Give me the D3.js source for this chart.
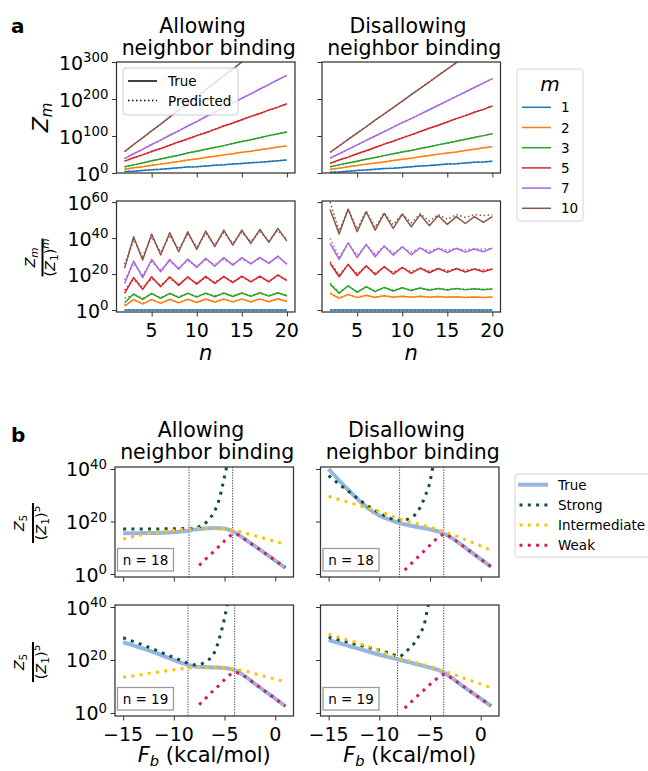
<!DOCTYPE html>
<html><head><meta charset="utf-8">
<script src="https://cdn.jsdelivr.net/npm/d3@7"></script>
<style>
body{margin:0;background:#fff;}
svg{font-family:"DejaVu Sans",sans-serif;}
</style></head><body>
<svg id="fig" width="648" height="771"></svg>
<script>
// ---------- panel a : partition functions vs chain length ----------
const nValues = [2,3,4,5,6,7,8,9,10,11,12,13,14,15,16,17,18,19,20];
const mValues = [1,2,3,5,7,10];
const mColors = ['#1f77b4','#ff7f0e','#2ca02c','#d62728','#ab68d6','#8c564b'];

// log10 Z_m, one row per m
const logZmAllow = [
  [4,5,7,9,10,12,14,16,17,19,21,22,24,26,28,29,31,33,35],
  [10,14,17,21,24,28,31,35,38,42,45,49,52,56,59,63,66,70,73],
  [17,22,27,33,38,43,48,54,59,64,69,74,80,85,90,95,101,106,111],
  [32,41,49,58,66,75,84,92,101,109,118,127,135,144,153,161,170,178,187],
  [39,52,64,77,89,102,114,127,139,152,164,177,189,202,214,227,239,252,264],
  [58,77,95,114,132,151,170,188,207,225,244,263,281,300,318,337,356,374,393]
];
const logZmDisallow = [
  [2,3,5,7,8,10,12,13,15,17,19,20,22,24,25,27,29,30,32],
  [10,13,17,20,24,27,30,34,37,40,44,47,51,54,57,61,64,68,71],
  [17,22,27,32,37,42,47,52,57,61,66,71,76,81,86,91,96,101,106],
  [26,35,43,52,60,69,78,86,95,103,112,121,129,138,147,155,164,172,181],
  [40,52,64,76,88,100,112,124,136,147,159,171,183,195,207,219,231,243,255],
  [56,73,91,108,125,143,160,177,194,212,229,246,264,281,298,316,333,350,367]
];

// log10 of Z_m / (Z_1)^m
const ratioAllowTrue = [
  [0,0,0,0,0,0,0,0,0,0,0,0,0,0,0,0,0,0,0],
  [2.2,5.9,3.3,5.9,3.7,6.0,4.0,6.0,4.2,6.1,4.3,6.1,4.4,6.2,4.5,6.2,4.6,6.3,4.6],
  [4.0,8.9,5.9,9.3,6.5,9.3,6.9,9.4,7.2,9.4,7.4,9.5,7.5,9.5,7.6,9.6,7.7,9.6,7.8],
  [9.3,18.1,11.5,18.5,13.0,18.5,13.7,18.5,14.4,18.7,14.8,18.7,15.2,18.8,15.6,18.9,15.6,19.6,16.3],
  [14.8,27.2,18.0,28.1,21.3,28.1,22.6,28.3,23.7,28.7,24.4,29.1,25.0,29.1,25.6,29.3,25.9,30.0,25.4],
  [23.2,40.7,27.8,42.2,30.6,43.0,32.4,43.5,33.7,43.9,35.2,44.4,36.1,44.4,37.0,44.8,37.6,45.4,38.3]
];
const ratioAllowPred = [
  [0,0,0,0,0,0,0,0,0,0,0,0,0,0,0,0,0,0,0],
  [2.8,5.5,3.7,5.6,4.0,5.7,4.3,5.8,4.5,5.9,4.6,5.9,4.7,6.0,4.8,6.0,4.9,6.1,4.9],
  [6.5,8.5,6.5,8.9,7.0,9.0,7.3,9.1,7.6,9.1,7.8,9.2,7.9,9.3,8.0,9.3,8.1,9.4,8.2],
  [11.0,17.0,12.5,17.5,13.8,17.7,14.4,17.8,15.0,18.0,15.4,18.1,15.7,18.2,16.0,18.3,16.1,18.9,16.7],
  [16.7,25.8,19.5,26.8,22.3,27.0,23.5,27.3,24.5,27.8,25.1,28.2,25.6,28.3,26.2,28.5,26.5,29.2,26.0],
  [25.5,39.0,29.8,40.5,32.2,41.5,33.8,42.0,35.0,42.5,36.3,43.0,37.1,43.2,38.0,43.6,38.6,44.2,39.2]
];
const ratioDisallowTrue = [
  [0,0,0,0,0,0,0,0,0,0,0,0,0,0,0,0,0,0,0],
  [9.3,6.5,8.7,6.9,8.2,7.0,7.9,7.1,7.7,7.1,7.6,7.1,7.5,7.1,7.4,7.0,7.3,7.0,7.2],
  [14.4,9.3,13.5,9.8,13.0,10.2,12.6,10.6,12.4,10.8,12.2,11.0,12.0,11.1,11.9,11.2,11.8,11.3,11.7],
  [25.9,18.5,25.4,19.1,24.6,19.6,24.1,20.0,23.7,20.4,23.3,20.7,23.1,20.9,23.1,21.1,22.8,21.3,22.8],
  [37.0,28.1,37.4,29.1,36.5,29.6,35.6,30.4,35.2,30.7,34.6,31.5,34.3,31.9,34.3,32.2,33.9,32.4,34.4],
  [55.9,42.2,56.1,43.5,54.6,44.4,53.7,45.4,53.3,46.3,53.0,46.9,52.4,47.6,51.9,48.1,51.9,48.7,51.9]
];
const ratioDisallowPred = [
  [0,0,0,0,0,0,0,0,0,0,0,0,0,0,0,0,0,0,0],
  [9.5,6.8,8.6,7.1,8.1,7.2,7.9,7.3,7.7,7.3,7.6,7.3,7.5,7.2,7.4,7.1,7.3,7.1,7.2],
  [14.8,9.8,13.3,10.2,12.8,10.6,12.5,10.9,12.3,11.1,12.1,11.3,12.0,11.4,11.9,11.5,11.8,11.5,11.7],
  [26.8,19.5,25.0,20.0,24.3,20.5,23.8,20.9,23.5,21.3,23.2,21.6,23.0,21.9,22.9,22.1,22.8,22.3,22.8],
  [39.8,29.5,37.0,30.5,36.0,31.2,35.3,31.8,34.8,32.3,34.4,32.8,34.2,33.2,34.1,33.5,34.0,33.8,34.2],
  [60.0,44.0,56.0,45.0,55.0,46.0,54.0,47.5,53.5,48.5,53.5,49.5,53.0,50.5,53.0,51.5,53.0,52.5,53.0]
];

// ---------- panel b : Z_5/(Z_1)^5 vs binding free energy ----------
const fbGrid = [-15,-14,-13,-12,-11,-10,-9,-8,-7,-6,-5,-4,-3,-2,-1,0,1];
const trueAllow18 = [15.5,15.5,15.6,15.6,15.7,15.9,16.3,16.9,17.3,17.5,17.3,15.8,13.3,10.6,7.9,5.1,2.4];
const interAllow18 = [13.3,14.2,15.0,15.7,16.2,16.6,17.0,17.3,17.4,17.4,17.3,16.6,15.6,14.6,13.5,12.4,11.3];
const strongAllow18 = [[-15,17.1],[-14,17.1],[-13,17.1],[-12,17.1],[-11,17.2],[-10,17.2],[-9,17.3],[-8,17.5],[-7.5,18.0],[-7,19.0],[-6.5,21.0],[-6,23.8],[-5.5,28.8],[-5,37.2],[-4.75,41.5]];
const weakAllow18 = [[-7.5,3.3],[-7,5.2],[-6.5,7.0],[-6,8.8],[-5.5,10.7],[-5,12.6],[-4.5,14.4],[-4,15.3],[-3.5,14.6],[-3,13.2],[-2,10.6],[-1,7.9],[0,5.1],[1,2.4]];

const trueDisallow18 = [40.0,35.8,31.8,28.0,24.7,22.3,20.7,19.4,18.5,17.7,17.0,16.0,14.1,11.4,8.5,5.7,2.8];
const interDisallow18 = [29.6,28.4,27.3,26.1,25.0,23.8,22.4,20.9,19.8,18.9,17.8,16.5,15.3,13.8,12.3,10.7,9.0];
const strongDisallow18 = [[-15,37.5],[-14,34.3],[-13,31.4],[-12,28.4],[-11,25.6],[-10,23.3],[-9,21.3],[-8,20.5],[-7.5,20.6],[-7,21.2],[-6.5,22.5],[-6,25.2],[-5.5,29.5],[-5,35.2],[-4.7,41.5]];
const weakDisallow18 = [[-7.5,1.5],[-7,3.4],[-6.5,5.3],[-6,7.2],[-5.5,9.1],[-5,11.0],[-4.5,12.9],[-4,14.4],[-3.5,15.3],[-3,14.1],[-2,11.4],[-1,8.5],[0,5.7],[1,2.8]];

const trueAllow19 = [26.7,25.5,24.3,23.0,21.5,20.0,18.6,17.6,17.3,17.2,17.0,16.2,13.9,11.0,8.2,5.4,2.6];
const interAllow19 = [13.5,14.0,14.6,15.2,15.7,16.3,16.8,17.1,17.3,17.3,17.0,16.5,15.8,14.8,13.8,12.8,11.7];
const strongAllow19 = [[-15,28.4],[-14,27.0],[-13,25.6],[-12,24.1],[-11,22.5],[-10,20.9],[-9,19.4],[-8.5,18.6],[-8,18.2],[-7.5,18.3],[-7,19.0],[-6.5,20.3],[-6,22.8],[-5.5,28.3],[-5,35.8],[-4.7,41.5]];
const weakAllow19 = [[-7.5,3.1],[-7,5.0],[-6.5,7.0],[-6,8.8],[-5.5,10.6],[-5,12.6],[-4.5,14.3],[-4,15.3],[-3.5,14.9],[-3,13.8],[-2,11.0],[-1,8.2],[0,5.4],[1,2.6]];

const trueDisallow19 = [27.5,26.4,25.3,24.2,23.1,22.0,21.0,20.1,19.1,18.1,17.1,16.0,13.6,10.8,8.1,5.4,2.7];
const interDisallow19 = [29.7,28.6,27.5,26.3,25.0,23.6,22.0,20.6,19.6,18.6,17.5,16.2,15.0,13.6,12.3,11.0,9.6];
const strongDisallow19 = [[-15,28.6],[-14,27.6],[-13,26.6],[-12,25.6],[-11,24.6],[-10,23.7],[-9,22.6],[-8,21.3],[-7.5,22.8],[-7,24.5],[-6.5,26.6],[-6,29.8],[-5.5,34.5],[-5.25,39.5],[-5.1,42]];
const weakDisallow19 = [[-7.5,1.8],[-7,3.6],[-6.5,5.5],[-6,7.3],[-5.5,9.0],[-5,10.8],[-4.5,12.4],[-4,14.0],[-3.5,14.6],[-3,13.5],[-2,10.8],[-1,8.1],[0,5.4],[1,2.7]];

// regime boundaries (kcal/mol)
const cutAllow18 = [-8.5, -4.2];
const cutDisallow18 = [-8.0, -3.65];
const cutAllow19 = [-8.6, -4.0];
const cutDisallow19 = [-8.2, -3.65];

const regimeNames = ['True','Strong','Intermediate','Weak'];
const regimeColors = ['#96b6de','#11503f','#ffc107','#d81b60'];

const ticksA = [5,10,15,20];
const ticksZm = [0,100,200,300];
const ticksRatioA = [0,20,40,60];
const ticksFb = [-15,-10,-5,0];
const ticksRatioB = [0,20,40];

// ---------- drawing helpers ----------
const svg = d3.select('#fig');
const INK = '#333';
let clipCount = 0;

function makePanel(x0, x1, y0, y1, xDom, yDom) {
  const id = 'clip' + (clipCount++);
  svg.append('clipPath').attr('id', id).append('rect')
    .attr('x', x0).attr('y', y0).attr('width', x1 - x0).attr('height', y1 - y0);
  const g = svg.append('g');
  const plot = g.append('g').attr('clip-path', `url(#${id})`);
  return {
    x: d3.scaleLinear().domain(xDom).range([x0, x1]),
    y: d3.scaleLinear().domain(yDom).range([y1, y0]),
    g, plot, x0, x1, y0, y1
  };
}

function powLabel(sel, x, y, exp) {
  const t = sel.append('text').attr('x', x).attr('y', y).attr('text-anchor', 'end')
    .attr('font-size', 19).attr('fill', '#000');
  t.append('tspan').text('10');
  t.append('tspan').attr('font-size', 13.3).attr('dy', -7.5).text(exp);
}

function drawAxes(p, xTicks, yTicks, xLabels, yLabels) {
  const top = p.g.append('g');
  const ax = top.append('g').attr('transform', `translate(0,${p.y1})`)
    .call(d3.axisBottom(p.x).tickValues(xTicks).tickSize(4.5).tickSizeOuter(0).tickFormat(''));
  const ay = top.append('g').attr('transform', `translate(${p.x0},0)`)
    .call(d3.axisLeft(p.y).tickValues(yTicks).tickSize(4.5).tickSizeOuter(0).tickFormat(''));
  [ax, ay].forEach(a => {
    a.select('.domain').remove();
    a.selectAll('line').attr('stroke', INK).attr('stroke-width', 1);
  });
  top.append('rect').attr('x', p.x0).attr('y', p.y0)
    .attr('width', p.x1 - p.x0).attr('height', p.y1 - p.y0)
    .attr('fill', 'none').attr('stroke', INK).attr('stroke-width', 1.25);
  if (xLabels) {
    xTicks.forEach(v => {
      top.append('text').attr('x', p.x(v)).attr('y', p.y1 + 25)
        .attr('text-anchor', 'middle').attr('font-size', 19)
        .text(v < 0 ? '\u2212' + Math.abs(v) : String(v));
    });
  }
  if (yLabels) {
    yTicks.forEach(v => powLabel(top, p.x0 - 8, p.y(v) + 7.5, String(v)));
  }
}

function title(cx, yBase, l1, l2) {
  const t = svg.append('text').attr('font-size', 20.5).attr('text-anchor', 'middle');
  t.append('tspan').attr('x', cx - 3.3).attr('y', yBase).text(l1);
  t.append('tspan').attr('x', cx + 3).attr('y', yBase + 22).text(l2);
}

function fracLabel(cx, cy, numBase, denBase, barLen, numSub, denSup) {
  const g = svg.append('g').attr('transform', `translate(${cx},${cy}) rotate(-90)`);
  const num = g.append('text').attr('y', numBase).attr('text-anchor', 'middle').attr('font-size', 14.5);
  num.append('tspan').attr('font-style', 'italic').text('Z');
  num.append('tspan').attr('font-size', 10.5).attr('dy', 3).attr('font-style', /\d/.test(numSub) ? 'normal' : 'italic').text(numSub);
  g.append('line').attr('x1', -barLen / 2).attr('x2', barLen / 2)
    .attr('stroke', '#000').attr('stroke-width', 2);
  const den = g.append('text').attr('y', denBase).attr('text-anchor', 'middle').attr('font-size', 14.5);
  den.append('tspan').text('(');
  den.append('tspan').attr('font-style', 'italic').text('Z');
  den.append('tspan').attr('font-size', 10.5).attr('dy', 3).text('1');
  den.append('tspan').attr('dy', -3).text(')');
  den.append('tspan').attr('font-size', 10.5).attr('dy', -6)
    .attr('font-style', /\d/.test(denSup) ? 'normal' : 'italic').text(denSup);
}

// column geometry
const colL = [116.5, 295];
const colR = [322, 500.5];
const rowA1 = [62, 173], rowA2 = [201, 312];
const rowB1 = [467, 577], rowB2 = [605, 716];
const nDomain = [1.1, 20.9];
const fbDomain = [-15.8, 1.8];

// ---------- panel a ----------
function drawZm(p, rows) {
  const line = d3.line().x((d, i) => p.x(nValues[i])).y(d => p.y(d));
  rows.forEach((r, k) => {
    p.plot.append('path').attr('d', line(r)).attr('fill', 'none')
      .attr('stroke', mColors[k]).attr('stroke-width', 1.5);
  });
  rows.forEach((r, k) => {
    p.plot.append('path').attr('d', line(r)).attr('fill', 'none')
      .attr('stroke', mColors[k]).attr('stroke-width', 1.5).attr('stroke-dasharray', '1.5,2.5');
  });
}
function drawRatio(p, trueRows, predRows) {
  const line = d3.line().x((d, i) => p.x(nValues[i])).y(d => p.y(d));
  trueRows.forEach((r, k) => {
    p.plot.append('path').attr('d', line(r)).attr('fill', 'none')
      .attr('stroke', mColors[k]).attr('stroke-width', 1.5).attr('stroke-linejoin', 'round');
  });
  predRows.forEach((r, k) => {
    p.plot.append('path').attr('d', line(r)).attr('fill', 'none')
      .attr('stroke', mColors[k]).attr('stroke-width', 1.5).attr('stroke-dasharray', '1.5,2.5');
  });
}

const pA1 = makePanel(colL[0], colL[1], rowA1[0], rowA1[1], nDomain, [0, 300]);
drawZm(pA1, logZmAllow);
const pA2 = makePanel(colR[0], colR[1], rowA1[0], rowA1[1], nDomain, [0, 300]);
drawZm(pA2, logZmDisallow);
const pA3 = makePanel(colL[0], colL[1], rowA2[0], rowA2[1], nDomain, [-1.1, 60.6]);
drawRatio(pA3, ratioAllowTrue, ratioAllowPred);
const pA4 = makePanel(colR[0], colR[1], rowA2[0], rowA2[1], nDomain, [-1.1, 60.6]);
drawRatio(pA4, ratioDisallowTrue, ratioDisallowPred);

// True / Predicted key
(function () {
  const g = pA1.g.append('g');
  g.append('rect').attr('x', 123).attr('y', 68).attr('width', 115).attr('height', 47).attr('rx', 3)
    .attr('fill', '#fff').attr('fill-opacity', 0.8).attr('stroke', '#cccccc');
  [['True', null], ['Predicted', '1.5,2.5']].forEach((d, i) => {
    const yy = 81 + i * 19.5;
    const l = g.append('line').attr('x1', 128).attr('x2', 157).attr('y1', yy).attr('y2', yy)
      .attr('stroke', '#000').attr('stroke-width', 1.5);
    if (d[1]) l.attr('stroke-dasharray', d[1]);
    g.append('text').attr('x', 168).attr('y', yy + 5).attr('font-size', 13.5).text(d[0]);
  });
})();

drawAxes(pA1, ticksA, ticksZm, false, true);
drawAxes(pA2, ticksA, ticksZm, false, false);
drawAxes(pA3, ticksA, ticksRatioA, true, true);
drawAxes(pA4, ticksA, ticksRatioA, true, false);

// m key
(function () {
  const g = svg.append('g');
  g.append('rect').attr('x', 517).attr('y', 69).attr('width', 66).attr('height', 152).attr('rx', 3)
    .attr('fill', '#fff').attr('stroke', '#d4d4d4');
  g.append('text').attr('x', 550).attr('y', 91).attr('text-anchor', 'middle')
    .attr('font-size', 20).attr('font-style', 'italic').text('m');
  mValues.forEach((m, i) => {
    const yy = 107.3 + i * 20.2;
    g.append('line').attr('x1', 522).attr('x2', 551).attr('y1', yy).attr('y2', yy)
      .attr('stroke', mColors[i]).attr('stroke-width', 1.5);
    g.append('text').attr('x', 561).attr('y', yy + 5).attr('font-size', 13.5).text(m);
  });
})();

// ---------- panel b ----------
function drawRegimes(p, trueVals, strongPts, interVals, weakPts, cuts, nLabel) {
  const lineG = d3.line().x((d, i) => p.x(fbGrid[i])).y(d => p.y(d)).curve(d3.curveMonotoneX);
  const lineP = d3.line().x(d => p.x(d[0])).y(d => p.y(d[1])).curve(d3.curveMonotoneX);
  cuts.forEach(c => {
    p.plot.append('line').attr('x1', p.x(c)).attr('x2', p.x(c)).attr('y1', p.y0).attr('y2', p.y1)
      .attr('stroke', '#444').attr('stroke-width', 1).attr('stroke-dasharray', '1.3,1.3');
  });
  p.plot.append('path').attr('d', lineG(trueVals)).attr('fill', 'none')
    .attr('stroke', regimeColors[0]).attr('stroke-width', 4).attr('stroke-linejoin', 'round');
  const dots = (d, col) => p.plot.append('path').attr('d', d).attr('fill', 'none')
    .attr('stroke', col).attr('stroke-width', 3).attr('stroke-dasharray', '3,5.3');
  dots(lineP(strongPts), regimeColors[1]);
  dots(lineG(interVals), regimeColors[2]);
  dots(lineP(weakPts), regimeColors[3]);
  // n label box
  const bx = p.x0 + 2.5, by = p.y1 - 28.5;
  p.g.append('rect').attr('x', bx).attr('y', by).attr('width', 56).attr('height', 22.5)
    .attr('fill', '#fff').attr('stroke', '#9a9a9a').attr('stroke-width', 1.3);
  p.g.append('text').attr('x', bx + 28).attr('y', by + 16).attr('text-anchor', 'middle')
    .attr('font-size', 13.5).text(nLabel);
}

const pB1 = makePanel(colL[0] - 1.5, colL[1] - 1.5, rowB1[0], rowB1[1], fbDomain, [-1.14, 40.76]);
drawRegimes(pB1, trueAllow18, strongAllow18, interAllow18, weakAllow18, cutAllow18, 'n = 18');
const pB2 = makePanel(colR[0] - 1.5, colR[1] - 1.5, rowB1[0], rowB1[1], fbDomain, [-1.14, 40.76]);
drawRegimes(pB2, trueDisallow18, strongDisallow18, interDisallow18, weakDisallow18, cutDisallow18, 'n = 18');
const pB3 = makePanel(colL[0] - 1.5, colL[1] - 1.5, rowB2[0], rowB2[1], fbDomain, [-1.14, 40.76]);
drawRegimes(pB3, trueAllow19, strongAllow19, interAllow19, weakAllow19, cutAllow19, 'n = 19');
const pB4 = makePanel(colR[0] - 1.5, colR[1] - 1.5, rowB2[0], rowB2[1], fbDomain, [-1.14, 40.76]);
drawRegimes(pB4, trueDisallow19, strongDisallow19, interDisallow19, weakDisallow19, cutDisallow19, 'n = 19');

drawAxes(pB1, ticksFb, ticksRatioB, false, true);
drawAxes(pB2, ticksFb, ticksRatioB, false, false);
drawAxes(pB3, ticksFb, ticksRatioB, true, true);
drawAxes(pB4, ticksFb, ticksRatioB, true, false);

// regime key
(function () {
  const g = svg.append('g');
  g.append('rect').attr('x', 515).attr('y', 474).attr('width', 160).attr('height', 83).attr('rx', 3)
    .attr('fill', '#fff').attr('stroke', '#d4d4d4');
  regimeNames.forEach((nm, i) => {
    const yy = 484.7 + i * 20.2;
    const l = g.append('line').attr('x1', 518).attr('x2', 548).attr('y1', yy).attr('y2', yy)
      .attr('stroke', regimeColors[i]);
    if (i === 0) l.attr('stroke-width', 4);
    else l.attr('stroke-width', 3).attr('stroke-dasharray', '3,5.3').attr('x1', 519.5);
    g.append('text').attr('x', 558).attr('y', yy + 5).attr('font-size', 13.5).text(nm);
  });
})();

// ---------- titles and axis labels ----------
const cL = (colL[0] + colL[1]) / 2, cR = (colR[0] + colR[1]) / 2;
title(cL, 33, 'Allowing', 'neighbor binding');
title(cR, 33, 'Disallowing', 'neighbor binding');
title(cL - 1.5, 437, 'Allowing', 'neighbor binding');
title(cR - 1.5, 437, 'Disallowing', 'neighbor binding');

svg.append('text').attr('x', 11).attr('y', 33).attr('font-size', 20).attr('font-weight', 'bold').text('a');
svg.append('text').attr('x', 11).attr('y', 442).attr('font-size', 20).attr('font-weight', 'bold').text('b');

// Z_m axis label
(function () {
  const t = svg.append('text').attr('transform', 'translate(48,117.5) rotate(-90)')
    .attr('text-anchor', 'middle').attr('font-size', 22);
  t.append('tspan').attr('font-style', 'italic').text('Z');
  t.append('tspan').attr('font-style', 'italic').attr('font-size', 15).attr('dy', 4).text('m');
})();
fracLabel(42.5, 257.5, -7.5, 12, 38, 'm', 'm');
fracLabel(33, 523, -9.5, 12.6, 40, '5', '5');
fracLabel(33, 662, -9.5, 12.6, 40, '5', '5');

// x axis labels
[cL, cR].forEach(cx => {
  svg.append('text').attr('x', cx).attr('y', 360).attr('text-anchor', 'middle')
    .attr('font-size', 21).attr('font-style', 'italic').text('n');
  const t = svg.append('text').attr('x', cx - 1.5).attr('y', 762).attr('text-anchor', 'middle').attr('font-size', 21);
  t.append('tspan').attr('font-style', 'italic').text('F');
  t.append('tspan').attr('font-style', 'italic').attr('font-size', 14.7).attr('dy', 4).text('b');
  t.append('tspan').attr('dy', -4).text(' (kcal/mol)');
});
</script>
</body></html>
